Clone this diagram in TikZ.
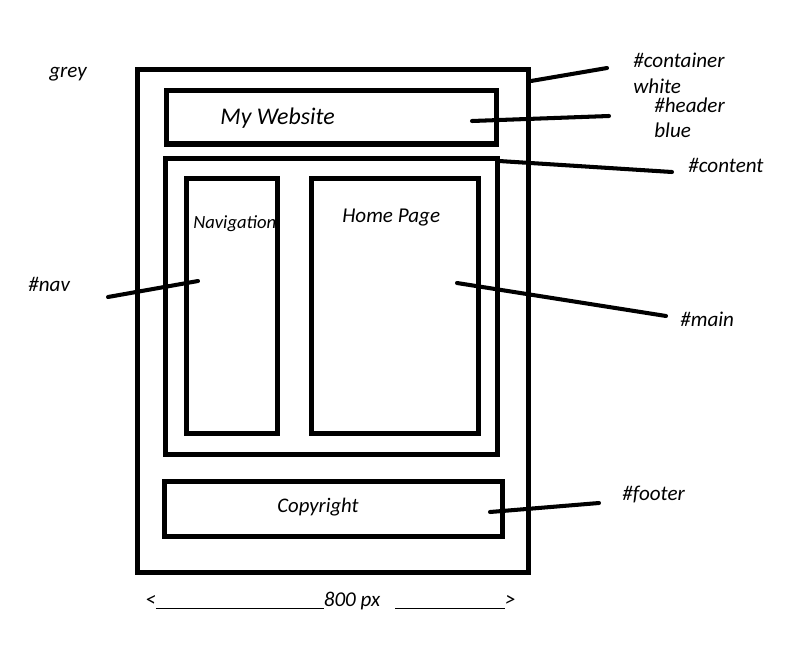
\documentclass[tikz,border=0pt]{standalone}
\usepackage{fontspec}
\setmainfont{Carlito}
\usepackage{tikz}
\usetikzlibrary{positioning}
\tikzstyle{box} = [rectangle, 
draw=black, 
line width=2.85pt, 
inner sep=0pt]
\tikzstyle{note} = [anchor=base west, 
inner sep=0pt, 
font=\fontsize{12}{14}\selectfont\itshape]
\tikzstyle{leader} = [line width=2.3pt, line cap=round]

\begin{document}
\begin{tikzpicture}[x=0.02cm, y=-0.02cm]
        \useasboundingbox (0,0) rectangle (807,659);
        % Cajas de la maqueta
        \node (container) [box, minimum width=7.84cm, minimum height=10.08cm] at (333,321) {};
        \node (header) [box, minimum width=6.62cm, minimum height=1.08cm] at (331.5,117) {};
        \node (content) [box, minimum width=6.66cm, minimum height=5.94cm] at (331.5,306.5) {};
        \node (nav) [box, minimum width=1.84cm, minimum height=5.12cm] at (232,306) {};
        \node (main) [box, minimum width=3.36cm, minimum height=5.12cm] at (395,306) {};
        \node (footer) [box, minimum width=6.78cm, minimum height=1.1cm] at (333.5,508.5) {};
        
        % Textos dentro de las cajas
        \node (title) [note, font=\fontsize{13.6}{16}\selectfont\itshape] at (220,124) {My Website};
        \node (navtxt) [note, font=\fontsize{10.6}{12}\selectfont\itshape] at (193,228) {Navigation};
        \node (hometxt) [note] at (342,222) {Home Page};
        \node (copytxt) [note, font=\fontsize{11.8}{13}\selectfont\itshape] at (277,512) {Copyright};
        
        % Etiquetas de fuera
        \node (grey) [note] at (49,77) {grey};
        \node (lblcontainer) [note] at (633,67) {\#container};
        \node (white) [note] at (633,93) {white};
        \node (lblheader) [note] at (654,112) {\#header};
        \node (blue) [note] at (654,137) {blue};
        \node (lblcontent) [note] at (688,172) {\#content};
        \node (lblnav) [note] at (28,291) {\#nav};
        \node (lblmain) [note] at (680,326) {\#main};
        \node (lblfooter) [note] at (622,500) {\#footer};
        \node (width) [note] at (145,606) {<\rule[-1.5pt]{3.36cm}{0.6pt}800 px\hspace{0.3cm}\rule[-1.5pt]{2.2cm}{0.6pt}>};
        
        % --- LINEAS ---
        \coordinate (c1) at (531,81);  \coordinate (c2) at (607,68);
        \coordinate (h1) at (472,121); \coordinate (h2) at (609,116);
        \coordinate (t1) at (499,161); \coordinate (t2) at (672,172);
        \coordinate (n1) at (108,297); \coordinate (n2) at (198,281);
        \coordinate (m1) at (457,283); \coordinate (m2) at (666,316);
        \coordinate (f1) at (490,512); \coordinate (f2) at (599,503);
        \draw [leader] (c1) -- (c2);
        \draw [leader] (h1) -- (h2);
        \draw [leader] (t1) -- (t2);
        \draw [leader] (n1) -- (n2);
        \draw [leader] (m1) -- (m2);
        \draw [leader] (f1) -- (f2);

    \end{tikzpicture}
\end{document}
